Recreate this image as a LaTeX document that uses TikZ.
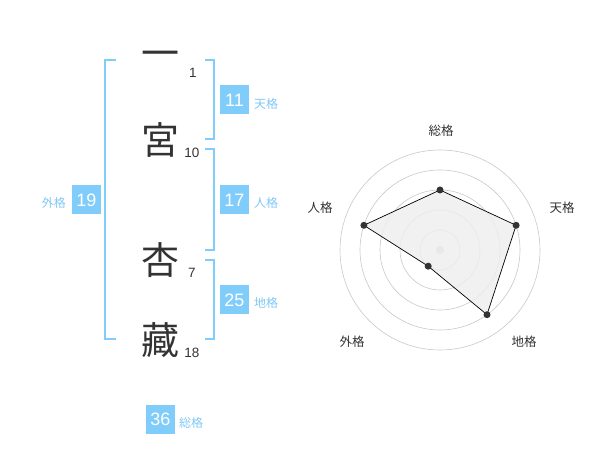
\documentclass[tikz,border=0pt]{standalone}
\usepackage{fontspec}
\setmainfont{Liberation Sans}
\newfontfamily\cjk{Noto Sans CJK JP}
\definecolor{boxblue}{RGB}{128,204,250}
\definecolor{lblblue}{RGB}{128,200,245}
\definecolor{txtgray}{RGB}{51,51,51}
\definecolor{ringgray}{RGB}{200,200,200}
\definecolor{polyfill}{RGB}{238,238,238}
\begin{document}
\begin{tikzpicture}[x=1pt,y=-1pt,
  bigchar/.style={inner sep=0pt,text=txtgray,font=\cjk\fontsize{38}{38}\selectfont},
  strokenum/.style={inner sep=0pt,text=txtgray,font=\fontsize{13.5}{13.5}\selectfont},
  scorebox/.style={fill=boxblue,text=white,minimum width=29pt,minimum height=29pt,inner sep=0pt,font=\fontsize{18}{18}\selectfont},
  scorelbl/.style={inner sep=0pt,text=lblblue,font=\cjk\fontsize{12}{12}\selectfont},
  bracket/.style={draw=boxblue,line width=2pt},
  ring/.style={draw=ringgray,line width=0.6pt},
  axislbl/.style={inner sep=0pt,text=txtgray,font=\cjk\fontsize{12.5}{12.5}\selectfont},
  dot/.style={circle,fill=txtgray,inner sep=0pt,minimum size=7pt}
]
\useasboundingbox (0,0) rectangle (600,470);

% name characters
\node[bigchar] (c1) at (160,59) {一};
\node[bigchar] (c2) at (160,140) {宮};
\node[bigchar] (c3) at (160,260) {杏};
\node[bigchar] (c4) at (160,340) {藏};

% stroke counts
\node[strokenum] (n1) at (193,73) {1};
\node[strokenum] (n2) at (192,153) {10};
\node[strokenum] (n3) at (192,273) {7};
\node[strokenum] (n4) at (192,353) {18};

% brackets
\draw[bracket] (116,60) -- (105,60) -- (105,339) -- (116,339);
\draw[bracket] (205,60) -- (214,60) -- (214,139) -- (205,139);
\draw[bracket] (205,149) -- (214,149) -- (214,250) -- (205,250);
\draw[bracket] (205,260) -- (214,260) -- (214,339) -- (205,339);

% score boxes
\node[scorebox] (ten) at (234.5,100) {11};
\node[scorelbl,anchor=west] (tenl) at (254,104) {天格};
\node[scorebox] (jin) at (234.5,200) {17};
\node[scorelbl,anchor=west] (jinl) at (254,203) {人格};
\node[scorebox] (gai) at (86.5,200) {19};
\node[scorelbl,anchor=east] (gail) at (66,203) {外格};
\node[scorebox] (chi) at (234.5,300) {25};
\node[scorelbl,anchor=west] (chil) at (254,303) {地格};
\node[scorebox] (sou) at (160.5,419) {36};
\node[scorelbl,anchor=west] (soul) at (179,423) {総格};

% radar chart
\coordinate (O) at (440,250);
\foreach \r in {20,40,60,80,100} \draw[ring] (O) circle[radius=\r];
\fill[ringgray] (O) circle[radius=4];
\coordinate (pS) at (440,190);
\coordinate (pT) at (516.1,225.3);
\coordinate (pC) at (487,314.7);
\coordinate (pG) at (428.2,266.2);
\coordinate (pJ) at (363.9,225.3);
\draw[fill=polyfill,fill opacity=0.85,draw=black,line width=0.7pt] (pS) -- (pT) -- (pC) -- (pG) -- (pJ) -- cycle;
\foreach \p in {pS,pT,pC,pG,pJ} \node[dot] at (\p) {};

\node[axislbl] (aS) at (441,130.5) {総格};
\node[axislbl] (aT) at (562,208) {天格};
\node[axislbl] (aJ) at (320,208) {人格};
\node[axislbl] (aG) at (352,342) {外格};
\node[axislbl] (aC) at (524,342) {地格};
\end{tikzpicture}
\end{document}
